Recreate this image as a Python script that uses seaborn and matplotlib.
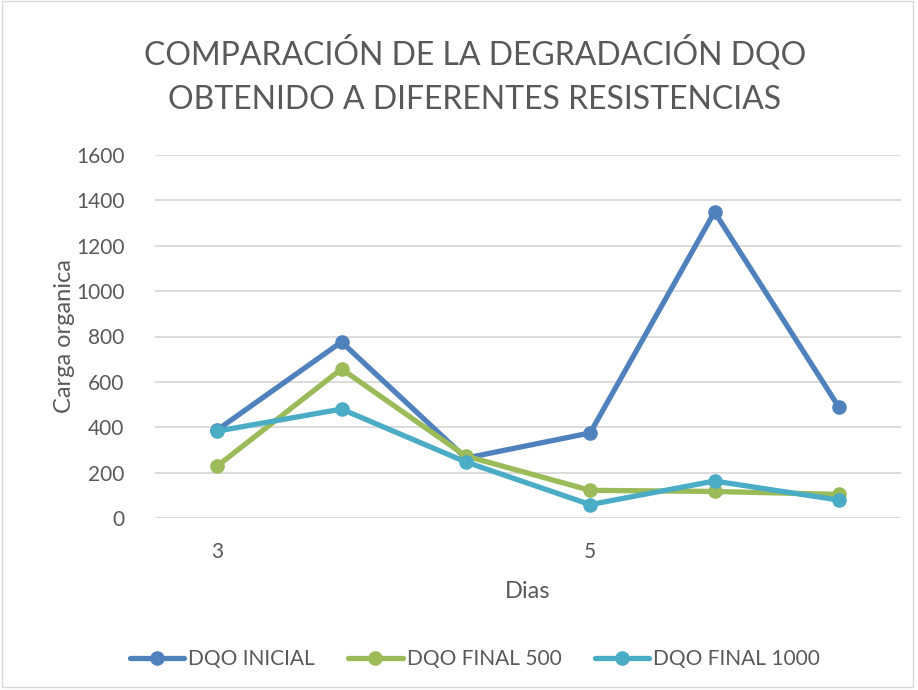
import matplotlib
matplotlib.use("Agg")
import matplotlib.pyplot as plt
import seaborn as sns
import pandas as pd
from matplotlib.patches import Rectangle

categories = ["3", "", " ", "5", "  ", "   "]
dqo_inicial = [388, 776, 264, 375, 1349, 489]
dqo_final_500 = [229, 657, 273, 122, 117, 104]
dqo_final_1000 = [383, 480, 247, 59, 163, 79]
series_names = ["DQO INICIAL", "DQO FINAL 500", "DQO FINAL 1000"]
colors = ["#4F81BD", "#9BBB59", "#4BACC6"]

sns.set_theme(style="white")
plt.rcParams['font.family'] = ['Lato', 'DejaVu Sans']

rows = []
for name, vals in zip(series_names, [dqo_inicial, dqo_final_500, dqo_final_1000]):
    for i, v in enumerate(vals):
        rows.append({"idx": i, "value": v, "serie": name})
df = pd.DataFrame(rows)

fig = plt.figure(figsize=(9.18, 6.9), dpi=100)
ax = fig.add_axes([155/918, 1-518/690, (901-155)/918, (518-155)/690])

sns.lineplot(data=df, x="idx", y="value", hue="serie", palette=colors,
             hue_order=series_names, marker="o", markersize=10.5, linewidth=3.8,
             markeredgewidth=0, ax=ax, legend=False, sort=False)

ax.set_xlim(-0.5, 5.5)
ax.set_ylim(0, 1600)
ax.set_yticks(range(0, 1601, 200))
ax.set_xticks(range(len(categories)))
ax.set_xticklabels(categories)
ax.yaxis.grid(True, color="#D9D9D9", linewidth=1.3)
ax.xaxis.grid(False)
for s in ["left", "right", "top", "bottom"]:
    ax.spines[s].set_visible(False)
ax.axhline(0, color="#D9D9D9", linewidth=1.3, zorder=0)
ax.tick_params(axis="both", colors="#595959", labelsize=15, length=0)
ax.tick_params(axis="y", pad=22)
ax.tick_params(axis="x", pad=17)
ax.set_xlabel("Dias", fontsize=17, color="#595959", labelpad=14)
ax.set_ylabel("Carga organica", fontsize=17, color="#595959", labelpad=1)

fig.text(475/918, 1-75/690, "COMPARACIÓN DE LA DEGRADACIÓN DQO\nOBTENIDO A DIFERENTES RESISTENCIAS",
         ha="center", va="center", fontsize=23, color="#595959", linespacing=1.6)

handles = [plt.Line2D([0], [0], color=c, linewidth=3.8, marker="o", markersize=10.5,
                      markeredgewidth=0) for c in colors]
fig.legend(handles, series_names, loc="center", bbox_to_anchor=(475/918, 1-659/690),
           ncol=3, frameon=False, fontsize=15, labelcolor="#595959",
           handlelength=2.6, columnspacing=1.6, handletextpad=0.2)

fig.patches.append(Rectangle((0.002, 0.004), 0.993, 0.994, transform=fig.transFigure,
                             fill=False, edgecolor="#D9D9D9", linewidth=1))

fig.savefig("out.png", dpi=100, facecolor="white")
